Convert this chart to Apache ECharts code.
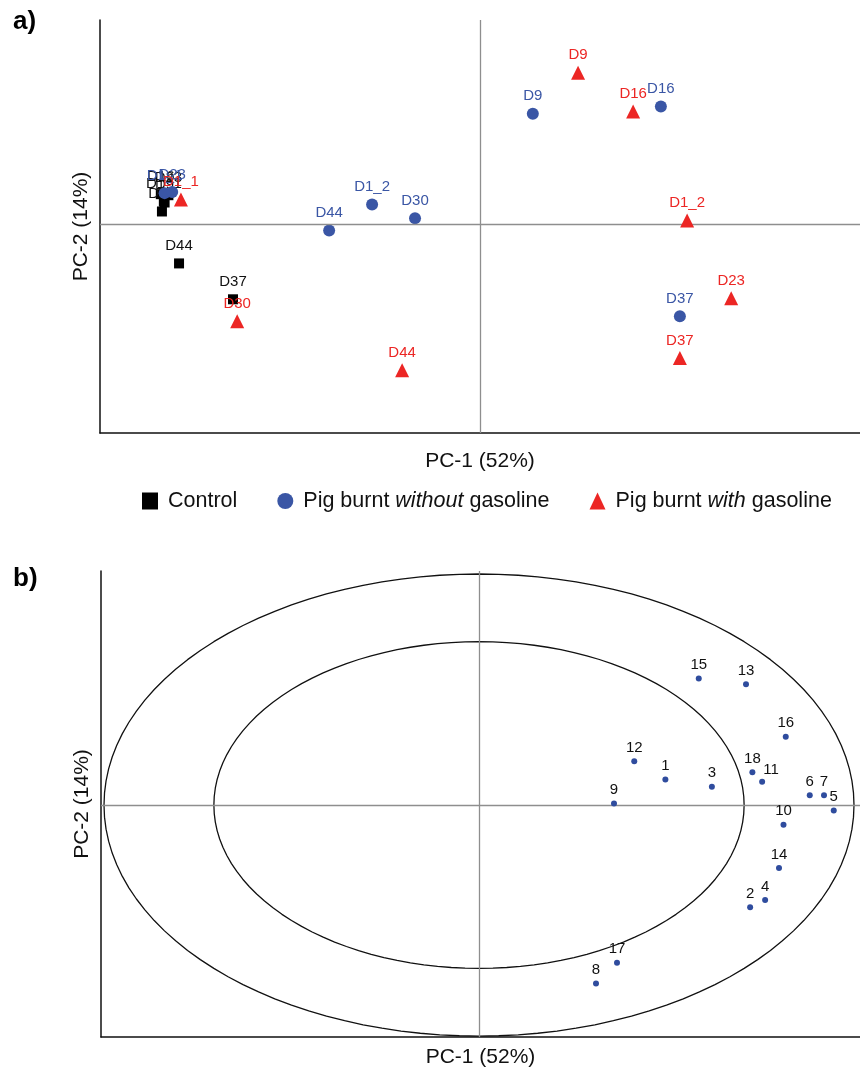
<!DOCTYPE html>
<html>
<head>
<meta charset="utf-8">
<script src="https://cdn.jsdelivr.net/npm/echarts@6/dist/echarts.min.js"></script>
<style>
  html, body { margin: 0; background: #fff; }
  #chart { width: 860px; height: 1073px; }
</style>
</head>
<body>
<div id="chart"></div>
<script>
// panel a: PCA scores
const controlLabels = ['D1_1', 'D9', 'D16', 'D23', 'D30', 'D37', 'D44'];
const controlPC1 = [-8.32, -8.30, -8.40, -8.20, -8.37, -6.50, -7.92];
const controlPC2 = [1.10, 1.05, 1.45, 1.40, 0.62, -3.59, -1.87];

const noGasLabels = ['D1_1', 'D9', 'D16', 'D1_2', 'D23', 'D30', 'D37', 'D44'];
const noGasPC1 = [-8.30, 1.39, 4.76, -2.84, -8.10, -1.71, 5.26, -3.97];
const noGasPC2 = [1.50, 5.31, 5.65, 0.96, 1.55, 0.29, -4.40, -0.29];

const gasLabels = ['D1_1', 'D9', 'D16', 'D1_2', 'D23', 'D30', 'D37', 'D44'];
const gasPC1 = [-7.87, 2.58, 4.03, 5.45, 6.61, -6.39, 5.26, -2.05];
const gasPC2 = [1.20, 7.27, 5.41, 0.19, -3.54, -4.64, -6.41, -6.99];

// panel b: loadings
const varLabels = ['1', '2', '3', '4', '5', '6', '7', '8', '9', '10', '11', '12', '13', '14', '15', '16', '17', '18'];
const loadPC1 = [0.497, 0.723, 0.621, 0.763, 0.946, 0.882, 0.920, 0.312, 0.360, 0.812, 0.755, 0.414, 0.712, 0.800, 0.586, 0.818, 0.368, 0.729];
const loadPC2 = [0.111, -0.442, 0.079, -0.411, -0.024, 0.042, 0.042, -0.772, 0.007, -0.085, 0.101, 0.189, 0.523, -0.272, 0.548, 0.296, -0.683, 0.142];

// correlation circles (r = 1 and r = sqrt(1/2))
const circleRadii = [1, 0.707];

const BLACK = '#000000';
const BLUE = '#3a56a5';
const RED = '#ec2624';
const FONT = 'Liberation Sans, Arial, sans-serif';

function pts(xs, ys, labels) {
  return xs.map((x, i) => ({ value: [x, ys[i]], name: labels[i] }));
}

function circlePts(r) {
  const out = [];
  for (let a = 0; a <= 360; a += 3) {
    const t = a * Math.PI / 180;
    out.push([r * Math.cos(t), r * Math.sin(t)]);
  }
  return out;
}

function axisCommon(name, gap) {
  return {
    type: 'value',
    axisLine: { show: true, onZero: false, lineStyle: { color: '#111', width: 1.5 } },
    axisTick: { show: false },
    axisLabel: { show: false },
    splitLine: { show: false },
    name: name,
    nameLocation: 'middle',
    nameGap: gap,
    nameTextStyle: { fontSize: 21, color: '#111', fontFamily: FONT }
  };
}

const centerLines = {
  silent: true,
  symbol: ['none', 'none'],
  label: { show: false },
  lineStyle: { color: '#8e8e8e', width: 1.3, type: 'solid' },
  data: [{ xAxis: 0 }, { yAxis: 0 }]
};

const chart = echarts.init(document.getElementById('chart'));

const option = {
  animation: false,
  backgroundColor: '#fff',
  textStyle: { fontFamily: FONT },
  title: [
    { text: 'a)', left: 8, top: 4, textStyle: { fontSize: 26, fontWeight: 'bold', color: '#000', fontFamily: FONT } },
    { text: 'b)', left: 8, top: 561, textStyle: { fontSize: 26, fontWeight: 'bold', color: '#000', fontFamily: FONT } }
  ],
  legend: {
    data: ['Control', 'Pig burnt without gasoline', 'Pig burnt with gasoline'],
    left: 137,
    top: 485,
    itemWidth: 16,
    itemHeight: 17,
    itemGap: 40,
    formatter: function (name) {
      if (name === 'Pig burnt without gasoline') return 'Pig burnt {i|without} gasoline';
      if (name === 'Pig burnt with gasoline') return 'Pig burnt {i|with} gasoline';
      return name;
    },
    textStyle: {
      fontSize: 21.5, color: '#111', fontFamily: FONT, padding: [0, 0, 0, 5],
      rich: { i: { fontSize: 21.5, fontStyle: 'italic', color: '#111', fontFamily: FONT } }
    }
  },
  grid: [
    { left: 100, right: 0, top: 20, height: 413 },
    { left: 101, right: 0, top: 571, height: 466 }
  ],
  xAxis: [
    Object.assign(axisCommon('PC-1 (52%)', 18), { gridIndex: 0, min: -10, max: 10 }),
    Object.assign(axisCommon('PC-1 (52%)', 10), { gridIndex: 1, min: -1.008, max: 1.016 })
  ],
  yAxis: [
    Object.assign(axisCommon('PC-2 (14%)', 8), { gridIndex: 0, min: -10, max: 9.8 }),
    Object.assign(axisCommon('PC-2 (14%)', 8), { gridIndex: 1, min: -1.004, max: 1.013 })
  ],
  series: [
    {
      name: 'Control',
      type: 'scatter',
      xAxisIndex: 0, yAxisIndex: 0,
      symbol: 'rect',
      symbolSize: 10,
      itemStyle: { color: BLACK, opacity: 1 },
      data: pts(controlPC1, controlPC2, controlLabels),
      label: { show: true, position: 'top', distance: 5, formatter: '{b}', color: '#111', fontSize: 15, fontFamily: FONT },
      markLine: centerLines,
      z: 3
    },
    {
      name: 'Pig burnt without gasoline',
      type: 'scatter',
      xAxisIndex: 0, yAxisIndex: 0,
      symbol: 'circle',
      symbolSize: 12,
      itemStyle: { color: BLUE, opacity: 1 },
      data: pts(noGasPC1, noGasPC2, noGasLabels),
      label: { show: true, position: 'top', distance: 4, formatter: '{b}', color: BLUE, fontSize: 15, fontFamily: FONT },
      z: 4
    },
    {
      name: 'Pig burnt with gasoline',
      type: 'scatter',
      xAxisIndex: 0, yAxisIndex: 0,
      symbol: 'triangle',
      symbolSize: 14,
      itemStyle: { color: RED, opacity: 1 },
      data: pts(gasPC1, gasPC2, gasLabels),
      label: { show: true, position: 'top', distance: 3, formatter: '{b}', color: RED, fontSize: 15, fontFamily: FONT },
      z: 5
    },
    ...circleRadii.map(r => ({
      type: 'line',
      xAxisIndex: 1, yAxisIndex: 1,
      silent: true,
      showSymbol: false,
      symbol: 'none',
      smooth: false,
      lineStyle: { color: '#111', width: 1.3 },
      data: circlePts(r),
      z: 2
    })),
    {
      name: 'loadings',
      type: 'scatter',
      xAxisIndex: 1, yAxisIndex: 1,
      symbol: 'circle',
      symbolSize: 6,
      itemStyle: { color: '#2f4c9e', opacity: 1 },
      data: pts(loadPC1, loadPC2, varLabels).map(d => d.name === '11'
        ? Object.assign(d, { label: { position: 'top', offset: [9, 2] } })
        : d),
      label: { show: true, position: 'top', distance: 3, formatter: '{b}', color: '#111', fontSize: 15, fontFamily: FONT },
      markLine: centerLines,
      z: 5
    }
  ]
};

chart.setOption(option);
</script>
</body>
</html>
